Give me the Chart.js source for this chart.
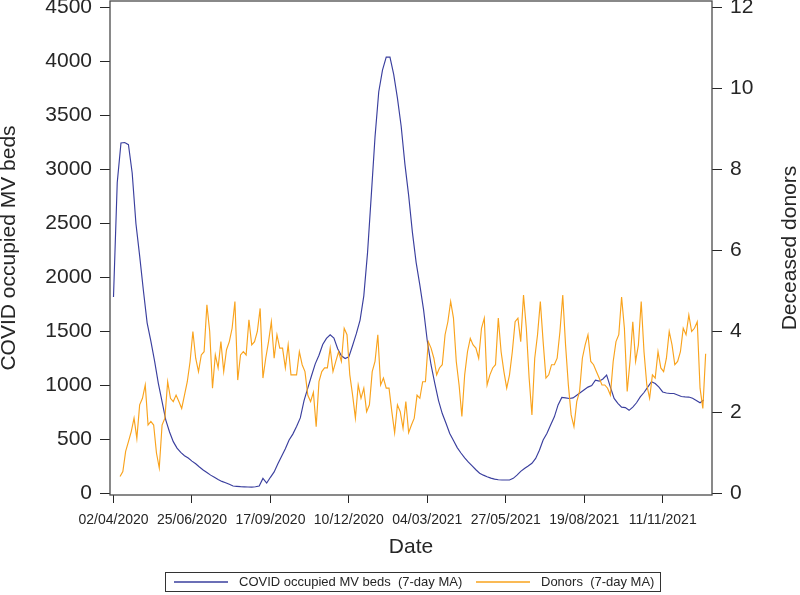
<!DOCTYPE html>
<html>
<head>
<meta charset="utf-8">
<script src="https://cdn.jsdelivr.net/npm/chart.js@4.4.1/dist/chart.umd.min.js"></script>
<style>
  html, body { margin: 0; padding: 0; background: #fff; }
  canvas { display: block; }
</style>
</head>
<body>
<canvas id="mvChart" width="800" height="595"></canvas>
<script>
// x positions are days since 02/04/2020
const xTickDays = [0, 84, 168, 252, 336, 420, 504, 588];
const xTickLabels = ['02/04/2020', '25/06/2020', '17/09/2020', '10/12/2020',
                     '04/03/2021', '27/05/2021', '19/08/2021', '11/11/2021'];
const bedTicks = [0, 500, 1000, 1500, 2000, 2500, 3000, 3500, 4000, 4500];
const donorTicks = [0, 2, 4, 6, 8, 10, 12];

// COVID occupied MV beds, 7-day MA, read every 4 days from day 0
const bedStart = 0, bedStep = 4;
const bedValues = [
  1820, 2880, 3245, 3250, 3230, 2968, 2500, 2200, 1880, 1580,
  1410, 1225, 1020, 850, 680, 570, 480, 420, 380, 350,
  328, 300, 275, 245, 218, 195, 170, 150, 130, 112,
  100, 85, 69, 66, 63, 62, 60, 59, 62, 70,
  140, 97, 150, 200, 275, 345, 415, 495, 550, 620,
  700, 860, 975, 1090, 1200, 1280, 1380, 1436, 1470, 1440,
  1340, 1275, 1250, 1265, 1370, 1480, 1606, 1830, 2230, 2760,
  3300, 3720, 3920, 4040, 4040, 3880, 3660, 3400, 3050, 2760,
  2420, 2140, 1930, 1700, 1410, 1190, 1020, 860, 740, 650,
  556, 490, 425, 375, 330, 290, 255, 220, 188, 170,
  155, 142, 133, 127, 125, 125, 125, 140, 170, 205,
  232, 255, 280, 325, 400, 495, 556, 635, 710, 820,
  890, 885, 880, 885, 910, 935, 960, 985, 1000, 1050,
  1040, 1060, 1096, 985, 880, 835, 800, 795, 770, 800,
  840, 895, 935, 985, 1035, 1018, 985, 940, 930, 926,
  926, 912, 898, 895, 893, 882, 862, 840, 866
];

// Deceased donors, 7-day MA, read every 3 days from day 7
const donorStart = 7, donorStep = 3;
const donorValues = [
  0.42, 0.54, 1.04, 1.28, 1.53, 1.86, 1.36, 2.19, 2.35, 2.68,
  1.69, 1.78, 1.69, 1.0, 0.63, 1.69, 1.86, 2.76, 2.35, 2.27,
  2.43, 2.27, 2.10, 2.43, 2.76, 3.26, 4.0, 3.34, 3.01, 3.42,
  3.5, 4.66, 4.0,
  2.6, 3.42, 3.1, 3.75, 3.01, 3.55, 3.75, 4.08, 4.74, 2.8,
  3.42, 3.5, 3.42, 4.29, 3.67, 3.75, 4.0, 4.57, 2.85, 3.34,
  3.75, 4.24, 3.34, 3.92, 3.59, 3.59, 3.1, 3.67, 2.93, 2.93,
  2.93, 3.5, 3.18, 3.01, 2.43,
  2.27, 2.5, 1.65, 2.76, 3.01, 3.1, 3.1, 3.59, 3.01, 3.26,
  3.5, 3.26, 4.08, 3.92, 2.93, 2.43, 1.86, 2.68, 2.35, 2.6,
  2.02, 2.19, 3.01, 3.26, 3.92, 2.68, 2.85, 2.6, 2.6, 2.02,
  1.5, 2.19, 2.02, 1.61, 2.27, 1.5,
  1.69, 1.86, 2.43, 2.35, 2.76, 2.76, 3.75, 3.59, 3.34, 2.93,
  3.1, 3.18, 3.92, 4.24, 4.74, 4.33, 3.26, 2.68, 1.9, 2.93,
  3.5, 3.83, 3.67, 3.59, 3.34, 4.08, 4.33, 2.68, 2.93, 3.1,
  3.18, 4.33, 3.5, 3.01, 2.6, 2.93,
  3.5, 4.24, 4.33, 3.75, 4.9, 4.08, 2.85, 1.94, 3.34, 3.92,
  4.74, 3.75, 2.85, 2.93, 3.18, 3.18, 3.34, 4.0, 4.9, 3.67,
  2.68, 1.94, 1.65, 2.27, 2.52, 3.34, 3.67, 3.92, 3.26, 3.18,
  3.01, 2.85, 2.68, 2.68, 2.6, 2.43,
  3.26, 3.75, 3.92, 4.85, 4.08, 2.52, 3.26, 4.24, 3.26, 3.67,
  4.74, 3.5, 2.68, 2.35, 2.93, 2.85, 3.5, 3.1, 3.01, 3.34,
  4.0, 3.67, 3.18, 3.26, 3.5, 4.08, 3.92, 4.41, 4.0, 4.08,
  4.24, 2.6, 2.1, 3.45
];

const FONT = "'Liberation Sans', Arial, sans-serif";
const INK = '#262626';
const BLUE = '#3a3f9e';
const ORANGE = '#f9a31d';

const bedPoints = bedValues.map((v, i) => ({ x: bedStart + i * bedStep, y: v }));
const donorPoints = donorValues.map((v, i) => ({ x: donorStart + i * donorStep, y: v }));

// box round the plot, right-hand title and boxed legend
const framePlugin = {
  id: 'frame',
  afterDatasetsDraw(chart) {
    const c = chart.ctx, a = chart.chartArea;
    c.save();
    c.strokeStyle = '#4a4a4a';
    c.lineWidth = 1.3;
    c.strokeRect(a.left, a.top, a.right - a.left, a.bottom - a.top);
    c.restore();
  },
  afterDraw(chart) {
    const c = chart.ctx;
    c.save();
    c.fillStyle = INK;
    c.font = '21px ' + FONT;
    c.textAlign = 'center';
    c.textBaseline = 'middle';
    c.translate(790, 248);
    c.rotate(-Math.PI / 2);
    c.fillText('Deceased donors', 0, 0);
    c.restore();

    c.save();
    c.strokeStyle = '#333';
    c.lineWidth = 1;
    c.strokeRect(165.5, 572.5, 495, 19);
    c.lineWidth = 1.3;
    c.strokeStyle = BLUE;
    c.beginPath(); c.moveTo(174, 582); c.lineTo(228, 582); c.stroke();
    c.strokeStyle = ORANGE;
    c.beginPath(); c.moveTo(476, 582); c.lineTo(530, 582); c.stroke();
    c.fillStyle = INK;
    c.font = '13px ' + FONT;
    c.textBaseline = 'middle';
    c.fillText('COVID occupied MV beds  (7-day MA)', 239, 582);
    c.fillText('Donors  (7-day MA)', 541, 582);
    c.restore();
  }
};

const ctx = document.getElementById('mvChart').getContext('2d');
new Chart(ctx, {
  type: 'line',
  data: {
    datasets: [{
      label: 'COVID occupied MV beds (7-day MA)',
      data: bedPoints,
      borderColor: BLUE,
      borderWidth: 1.15,
      pointRadius: 0,
      tension: 0,
      yAxisID: 'y',
      order: 2
    }, {
      label: 'Donors (7-day MA)',
      data: donorPoints,
      borderColor: ORANGE,
      borderWidth: 1.15,
      pointRadius: 0,
      tension: 0,
      yAxisID: 'y2',
      order: 1
    }]
  },
  options: {
    responsive: false,
    animation: false,
    events: [],
    layout: { padding: { top: 1, left: 0, right: 0, bottom: 0 } },
    plugins: {
      legend: { display: false },
      tooltip: { enabled: false }
    },
    scales: {
      x: {
        type: 'linear',
        min: -3.75,
        max: 640.8,
        afterBuildTicks: s => { s.ticks = xTickDays.map(v => ({ value: v })); },
        afterFit: s => { s.height = 100; s.paddingLeft = 0; s.paddingRight = 0; },
        border: { display: false },
        grid: { drawOnChartArea: false, drawTicks: true, tickLength: 8, color: INK },
        ticks: {
          autoSkip: false,
          maxRotation: 0,
          padding: 9,
          color: INK,
          font: { family: FONT, size: 14 },
          callback: v => xTickLabels[xTickDays.indexOf(v)]
        },
        title: {
          display: true,
          text: 'Date',
          color: INK,
          font: { family: FONT, size: 21 },
          padding: { top: 0, bottom: 35 }
        }
      },
      y: {
        position: 'left',
        min: -13.9,
        max: 4560,
        afterBuildTicks: s => { s.ticks = bedTicks.map(v => ({ value: v })); },
        afterFit: s => { s.width = 110; s.paddingTop = 0; s.paddingBottom = 0; },
        border: { display: false },
        grid: { drawOnChartArea: false, drawTicks: true, tickLength: 10, color: INK },
        ticks: { padding: 8, color: INK, font: { family: FONT, size: 21 }, callback: v => String(v) },
        title: {
          display: true,
          text: 'COVID occupied MV beds',
          color: INK,
          font: { family: FONT, size: 21, lineHeight: 0.9 },
          padding: { top: 0, bottom: 0 }
        }
      },
      y2: {
        position: 'right',
        min: -0.037,
        max: 12.16,
        afterBuildTicks: s => { s.ticks = donorTicks.map(v => ({ value: v })); },
        afterFit: s => { s.width = 88; s.paddingTop = 0; s.paddingBottom = 0; },
        border: { display: false },
        grid: { drawOnChartArea: false, drawTicks: true, tickLength: 10, color: INK },
        ticks: { padding: 8, color: INK, font: { family: FONT, size: 21 }, callback: v => String(v) }
      }
    }
  },
  plugins: [framePlugin]
});
</script>
</body>
</html>
